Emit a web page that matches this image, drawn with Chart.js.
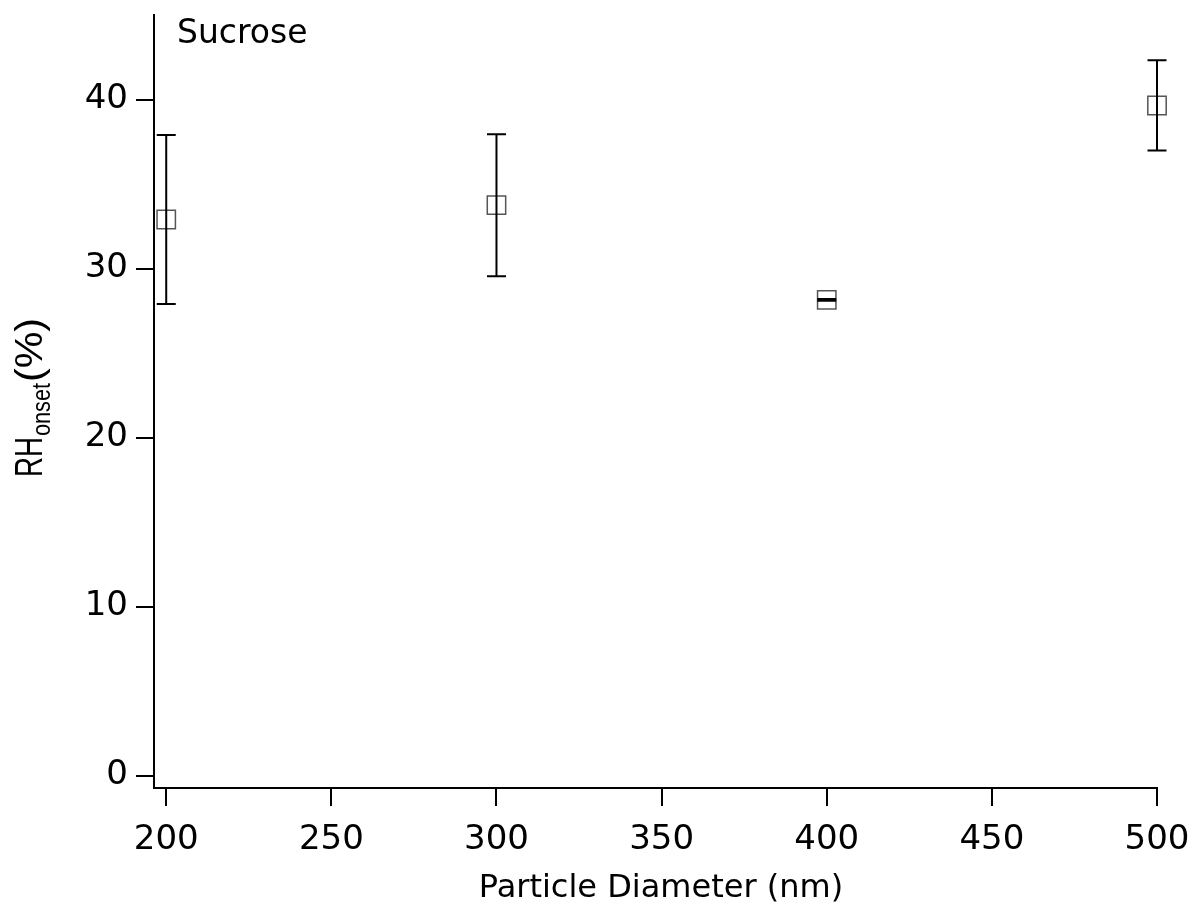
<!DOCTYPE html>
<html>
<head>
<meta charset="utf-8">
<title>Sucrose RH onset vs particle diameter</title>
<script src="https://cdn.jsdelivr.net/npm/chart.js@4/dist/chart.umd.min.js"></script>
<style>
  html, body { margin: 0; padding: 0; background: #fff; }
  canvas { display: block; }
</style>
</head>
<body>
<canvas id="chart" width="1194" height="905"></canvas>
<script>
// ─── Data ────────────────────────────────────────────────────────────────────
const DIAMETER_NM = [200, 300, 400, 500];
const RH_ONSET    = [32.9, 33.75, 28.15, 39.65];
const RH_ERROR    = [5.0, 4.2, 0.05, 2.67];   // ± half-width of each error bar

const X_TICKS = [200, 250, 300, 350, 400, 450, 500];
const Y_TICKS = [0, 10, 20, 30, 40];

const PANEL_TITLE = 'Sucrose';
const X_TITLE = 'Particle Diameter (nm)';

// ─── Styles ──────────────────────────────────────────────────────────────────
const TICK_FONT = { family: 'DejaVu Sans', size: 34 };
const LABEL_FAMILY = '"DejaVu Sans"';
const YLABEL_FAMILY = '"Liberation Sans", Arial';
const CAP_HALF = 9.5;

// ─── Error bars: vertical whisker + caps, drawn over the open squares ───────
const errorBars = {
  id: 'errorBars',
  afterDatasetsDraw(chart) {
    const { ctx, scales: { x, y } } = chart;
    ctx.save();
    ctx.strokeStyle = '#000';
    ctx.lineWidth = 2;
    DIAMETER_NM.forEach((d, i) => {
      const px = x.getPixelForValue(d);
      const top = y.getPixelForValue(RH_ONSET[i] + RH_ERROR[i]);
      const bot = y.getPixelForValue(RH_ONSET[i] - RH_ERROR[i]);
      ctx.beginPath();
      ctx.moveTo(px, top); ctx.lineTo(px, bot);
      ctx.moveTo(px - CAP_HALF, top); ctx.lineTo(px + CAP_HALF, top);
      ctx.moveTo(px - CAP_HALF, bot); ctx.lineTo(px + CAP_HALF, bot);
      ctx.stroke();
    });
    ctx.restore();
  },
};

// Draw text squeezed/stretched horizontally to a given width
function drawFitted(ctx, text, font, x, y, width) {
  ctx.font = font;
  const w = ctx.measureText(text).width;
  ctx.save();
  ctx.translate(x, y);
  ctx.scale(width / w, 1);
  ctx.fillText(text, 0, 0);
  ctx.restore();
}

// ─── Annotations: panel title, axis titles (y has a subscript) ───────────────
const labels = {
  id: 'labels',
  afterDraw(chart) {
    const { ctx, chartArea } = chart;
    ctx.save();
    ctx.fillStyle = '#000';
    ctx.textBaseline = 'alphabetic';

    ctx.textAlign = 'left';
    ctx.font = `33px ${LABEL_FAMILY}`;
    ctx.fillText(PANEL_TITLE, chartArea.left + 23, chartArea.top + 28);

    ctx.textAlign = 'center';
    ctx.font = `32px ${LABEL_FAMILY}`;
    ctx.fillText(X_TITLE, 661, 897);

    // RH_onset(%) rotated, reading bottom to top
    ctx.textAlign = 'left';
    ctx.translate(42, 477);
    ctx.rotate(-Math.PI / 2);
    drawFitted(ctx, 'RH', `38px ${YLABEL_FAMILY}`, 0, 0, 40);
    drawFitted(ctx, 'onset', `26px ${YLABEL_FAMILY}`, 41, 8, 53);
    drawFitted(ctx, '(%)', `38px ${YLABEL_FAMILY}`, 95, 0, 64);
    ctx.restore();
  },
};

// ─── Chart ───────────────────────────────────────────────────────────────────
const axisGrid = {
  drawOnChartArea: false,
  drawTicks: true,
  tickLength: 18,
  color: '#000',
  lineWidth: 2,
};

new Chart(document.getElementById('chart'), {
  type: 'scatter',
  data: {
    datasets: [{
      data: DIAMETER_NM.map((d, i) => ({ x: d, y: RH_ONSET[i] })),
      pointStyle: 'rect',
      pointRadius: 13,
      pointHoverRadius: 13,
      pointBorderWidth: 1.5,
      pointBorderColor: '#555',
      pointBackgroundColor: 'rgba(0,0,0,0)',
      showLine: false,
      clip: false,
    }],
  },
  options: {
    responsive: false,
    animation: false,
    devicePixelRatio: 1,
    layout: { padding: { top: 15, right: 37, left: 0, bottom: 0 } },
    plugins: { legend: { display: false }, tooltip: { enabled: false } },
    scales: {
      x: {
        type: 'linear',
        position: 'bottom',
        min: 196.3,
        max: 500,
        afterBuildTicks: s => { s.ticks = X_TICKS.map(v => ({ value: v })); },
        afterFit: s => { s.height = 117; s.paddingLeft = 0; s.paddingRight = 0; },
        ticks: { font: TICK_FONT, color: '#000', padding: 14, maxRotation: 0, autoSkip: false },
        grid: axisGrid,
        border: { display: true, color: '#000', width: 2 },
      },
      y: {
        type: 'linear',
        position: 'left',
        min: -0.73,
        max: 45,
        afterBuildTicks: s => { s.ticks = Y_TICKS.map(v => ({ value: v })); },
        afterFit: s => { s.width = 154; s.paddingTop = 0; s.paddingBottom = 0; },
        ticks: { font: TICK_FONT, color: '#000', padding: 8, autoSkip: false },
        grid: axisGrid,
        border: { display: true, color: '#000', width: 2 },
      },
    },
  },
  plugins: [errorBars, labels],
});
</script>
</body>
</html>
